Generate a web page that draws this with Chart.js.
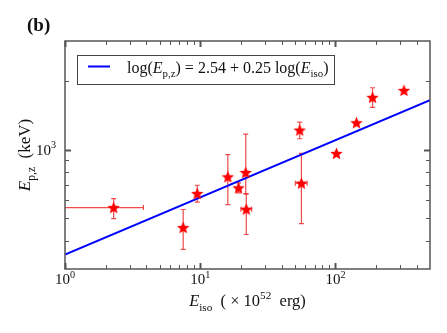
<!DOCTYPE html>
<html>
<head>
<meta charset="utf-8">
<script src="https://cdn.jsdelivr.net/npm/chart.js@4/dist/chart.umd.min.js"></script>
<style>
  html,body{margin:0;padding:0;background:#fff;}
  #wrap{width:447px;height:333px;position:relative;}
</style>
</head>
<body>
<div id="wrap"><canvas id="c" width="447" height="333"></canvas></div>
<script>
// data
const eIso   = [2.29, 7.48, 9.5, 16.0, 19.2, 21.7, 21.9, 54.4, 56.0, 101.7, 143, 188, 321];
const epz    = [558, 456, 643, 761, 681, 795, 549, 1220, 714, 964, 1314, 1698, 1822];
const epzHi  = [611, 547, 699, 953, 716, 1172, 640, 1323, 964, null, null, 1871, null];
const epzLo  = [499, 366, 589, 575, 647, 640, 425, 1118, 474, null, null, 1534, null];
const eIsoLo = [0.5, null, null, null, null, null, 20.0, null, 50.5, null, null, null, null];
const eIsoHi = [3.8, null, null, null, null, null, 24.0, null, 61.7, null, null, null, null];

const fitX = [1, 500];
const fitY = [347, 1650];

const xMajor = [1, 10, 100];
const xMajorExp = ['0', '1', '2'];
const xMinor = [2,3,4,5,6,7,8,9,20,30,40,50,60,70,80,90,200,300,400];
const yMajor = [1000];
const yMajorExp = ['3'];
const yMinor = [400,500,600,700,800,900,2000];

const SERIF = '"Liberation Serif", "DejaVu Serif", serif';

function starImage(size, color){
  const cv = document.createElement('canvas');
  cv.width = size; cv.height = size;
  const g = cv.getContext('2d');
  const cx = size/2, cy = size/2 + 0.6, R = size/2, r = R*0.45;
  g.beginPath();
  for(let i=0;i<10;i++){
    const rad = i%2===0 ? R : r;
    const a = -Math.PI/2 + i*Math.PI/5;
    g.lineTo(cx + rad*Math.cos(a), cy + rad*Math.sin(a));
  }
  g.closePath();
  g.fillStyle = color; g.fill();
  return cv;
}

// draw runs of text: {t, it, sub, sup}
function richWidth(ctx, parts, size){
  let w = 0;
  parts.forEach(p=>{
    const s = (p.sub||p.sup) ? size*0.68 : size;
    ctx.font = (p.it?'italic ':'') + s + 'px ' + SERIF;
    w += ctx.measureText(p.t).width;
  });
  return w;
}
function richText(ctx, parts, x, y, size){
  parts.forEach(p=>{
    const s = (p.sub||p.sup) ? size*0.68 : size;
    ctx.font = (p.it?'italic ':'') + s + 'px ' + SERIF;
    const dy = p.sub ? size*0.3 : (p.sup ? -size*0.42 : 0);
    ctx.fillText(p.t, x, y + dy);
    x += ctx.measureText(p.t).width;
  });
}

const errorBars = {
  id:'errorBars',
  beforeDatasetsDraw(chart){
    const {ctx, scales:{x, y}, chartArea:a} = chart;
    ctx.save();
    ctx.beginPath(); ctx.rect(a.left, a.top, a.right-a.left, a.bottom-a.top); ctx.clip();
    ctx.strokeStyle = 'rgba(235,30,30,0.8)';
    ctx.lineWidth = 1.2;
    const cap = 2.5;
    eIso.forEach((v,i)=>{
      const px = x.getPixelForValue(v), py = y.getPixelForValue(epz[i]);
      if(epzHi[i]!=null){
        const t = y.getPixelForValue(epzHi[i]), b = y.getPixelForValue(epzLo[i]);
        ctx.beginPath();
        ctx.moveTo(px, t); ctx.lineTo(px, b);
        ctx.moveTo(px-cap, t); ctx.lineTo(px+cap, t);
        ctx.moveTo(px-cap, b); ctx.lineTo(px+cap, b);
        ctx.stroke();
      }
      if(eIsoLo[i]!=null){
        const l = x.getPixelForValue(eIsoLo[i]), r = x.getPixelForValue(eIsoHi[i]);
        ctx.beginPath();
        ctx.moveTo(l, py); ctx.lineTo(r, py);
        ctx.moveTo(l, py-cap); ctx.lineTo(l, py+cap);
        ctx.moveTo(r, py-cap); ctx.lineTo(r, py+cap);
        ctx.stroke();
      }
    });
    ctx.restore();
  }
};

const frame = {
  id:'frame',
  afterDraw(chart){
    const {ctx, scales:{x, y}, chartArea:a} = chart;
    ctx.save();
    ctx.strokeStyle = '#555';
    // ticks inward on all sides
    const tick = (px, len, w, horiz)=>{
      ctx.lineWidth = w;
      ctx.beginPath();
      if(horiz){
        ctx.moveTo(px, a.bottom); ctx.lineTo(px, a.bottom-len);
        ctx.moveTo(px, a.top); ctx.lineTo(px, a.top+len);
      } else {
        ctx.moveTo(a.left, px); ctx.lineTo(a.left+len, px);
        ctx.moveTo(a.right, px); ctx.lineTo(a.right-len, px);
      }
      ctx.stroke();
    };
    xMinor.forEach(v=>tick(Math.round(x.getPixelForValue(v))+0.5, 4, 1, true));
    xMajor.forEach(v=>tick(Math.round(x.getPixelForValue(v))+0.5, 6, 2, true));
    yMinor.forEach(v=>tick(Math.round(y.getPixelForValue(v))+0.5, 4, 1, false));
    yMajor.forEach(v=>tick(Math.round(y.getPixelForValue(v))+0.5, 6, 2.2, false));
    ctx.lineWidth = 1.5;
    ctx.strokeRect(a.left, a.top, a.right-a.left, a.bottom-a.top);

    // tick labels
    ctx.fillStyle = '#111';
    ctx.textBaseline = 'alphabetic';
    xMajor.forEach((v,i)=>{
      const parts = [{t:'10'},{t:xMajorExp[i], sup:true}];
      const w = richWidth(ctx, parts, 15);
      richText(ctx, parts, x.getPixelForValue(v) - w/2, a.bottom+15, 15);
    });
    yMajor.forEach((v,i)=>{
      const parts = [{t:'10'},{t:yMajorExp[i], sup:true}];
      const w = richWidth(ctx, parts, 15);
      richText(ctx, parts, a.left - 9 - w, y.getPixelForValue(v)+5, 15);
    });

    // axis titles
    const xt = [{t:'E', it:true},{t:'iso', sub:true},{t:'  ( \u00d7 10'},{t:'52', sup:true},{t:'  erg)'}];
    const xw = richWidth(ctx, xt, 16.5);
    richText(ctx, xt, (a.left+a.right)/2 - xw/2, 306, 16.5);

    ctx.save();
    ctx.translate(30, 155);
    ctx.rotate(-Math.PI/2);
    const yt = [{t:'E', it:true},{t:'p,z', sub:true},{t:'  (keV)'}];
    const yw = richWidth(ctx, yt, 17);
    richText(ctx, yt, -yw/2, 0, 17);
    ctx.restore();

    // panel label
    ctx.font = 'bold 19px ' + SERIF;
    ctx.fillText('(b)', 27, 31);

    // legend
    ctx.fillStyle = '#fff';
    ctx.fillRect(77.5, 55.5, 257, 29);
    ctx.strokeStyle = '#444'; ctx.lineWidth = 1;
    ctx.strokeRect(77.5, 55.5, 257, 29);
    ctx.strokeStyle = '#0000ff'; ctx.lineWidth = 2;
    ctx.beginPath(); ctx.moveTo(88, 66.5); ctx.lineTo(110, 66.5); ctx.stroke();
    ctx.fillStyle = '#111';
    const lg = [{t:'log('},{t:'E', it:true},{t:'p,z', sub:true},{t:') = 2.54 + 0.25 log('},{t:'E', it:true},{t:'iso', sub:true},{t:')'}];
    richText(ctx, lg, 127, 72.5, 16);
    ctx.restore();
  }
};

new Chart(document.getElementById('c'), {
  type:'scatter',
  data:{
    datasets:[
      {
        type:'line',
        data: fitX.map((v,i)=>({x:v, y:fitY[i]})),
        borderColor:'#0000ff', borderWidth:2, pointRadius:0, fill:false, order:2
      },
      {
        data: eIso.map((v,i)=>({x:v, y:epz[i]})),
        pointStyle: starImage(13, '#ff0000'),
        order:1
      }
    ]
  },
  options:{
    responsive:false,
    animation:false,
    events:[],
    layout:{padding:{left:65, right:17, top:41, bottom:64}},
    plugins:{legend:{display:false}, tooltip:{enabled:false}},
    scales:{
      x:{type:'logarithmic', min:1, max:500, display:false},
      y:{type:'logarithmic', min:300, max:3000, display:false}
    }
  },
  plugins:[errorBars, frame]
});
</script>
</body>
</html>
